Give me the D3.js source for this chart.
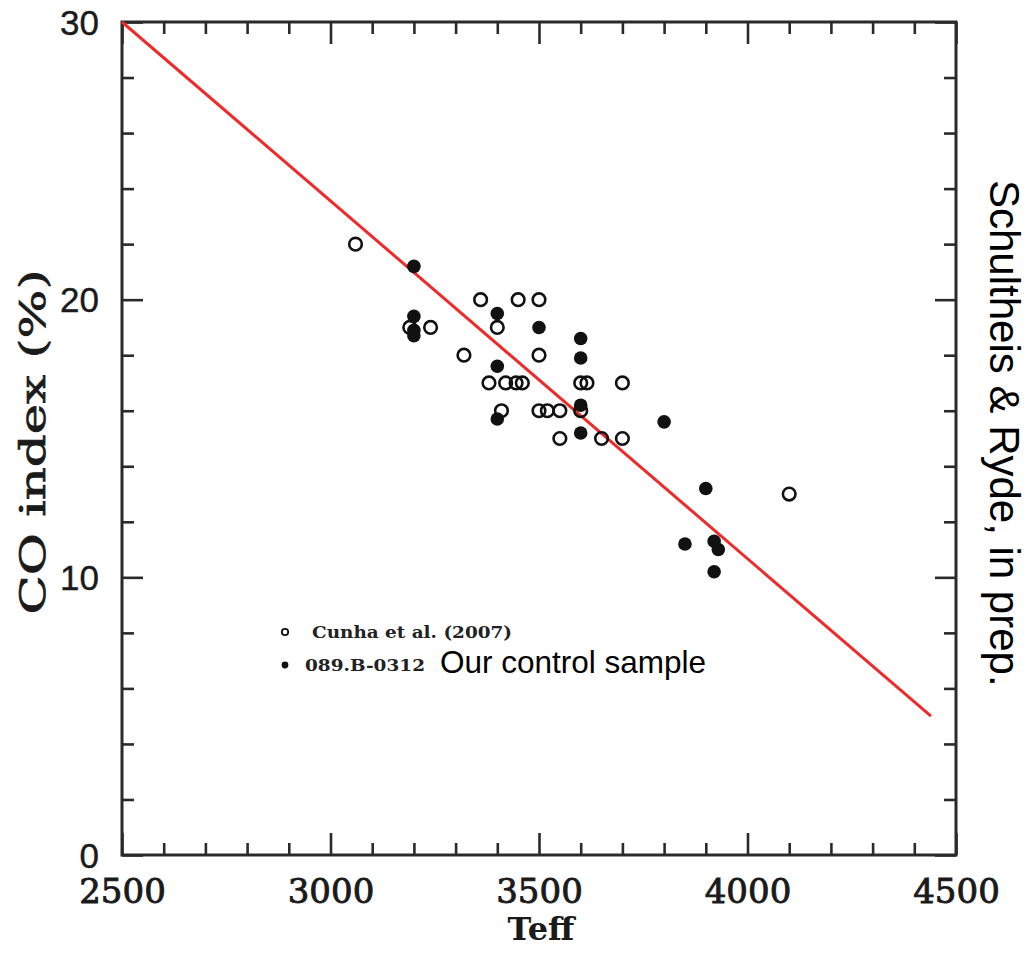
<html>
<script src="https://d3js.org/d3.v7.min.js"></script>
<body style="margin:0;background:#fff">
<div id="chart"></div>
<script>
// Cunha et al. (2007) - open circles
const cunhaTeff = [3060, 3360, 3450, 3500, 3190, 3240, 3400, 3320, 3500, 3380, 3420, 3445, 3460, 3600, 3615, 3700, 3410, 3500, 3520, 3550, 3600, 3550, 3650, 3700, 4100];
const cunhaCO   = [22, 20, 20, 20, 19, 19, 19, 18, 18, 17, 17, 17, 17, 17, 17, 17, 16, 16, 16, 16, 16, 15, 15, 15, 13];
// 089.B-0312 control sample - filled dots
const ctrlTeff = [3200, 3200, 3200, 3200, 3400, 3500, 3400, 3400, 3600, 3600, 3600, 3600, 3800, 3900, 3850, 3920, 3930, 3920];
const ctrlCO   = [21.2, 19.4, 18.9, 18.7, 19.5, 19, 17.6, 15.7, 18.6, 17.9, 16.2, 15.2, 15.6, 13.2, 11.2, 11.3, 11, 10.2];
// red relation
const fitTeff = [2500, 4440];
const fitCO   = [30, 5];
// ticks
const xMajor = [2500, 3000, 3500, 4000, 4500];
const yMajor = [0, 10, 20, 30];

const W = 1033, H = 953;
const svg = d3.select("#chart").append("svg").attr("width", W).attr("height", H);

const x = d3.scaleLinear().domain([2500, 4500]).range([122, 956]);
const y = d3.scaleLinear().domain([0, 30]).range([855, 22]);

const xMinor = d3.range(2600, 4500, 100).filter(v => v % 500 != 0);
const yMinor = d3.range(2, 30, 2).filter(v => v % 10 != 0);
const axisColor = "#2a2a2a";

function styleAxis(g) {
	g.select(".domain").remove();
	g.selectAll("line").attr("stroke", axisColor).attr("stroke-width", 2.6);
}

// bottom
svg.append("g").attr("transform", "translate(0,855)")
	.call(d3.axisBottom(x).tickValues(xMajor).tickSizeInner(-22).tickSizeOuter(0).tickPadding(0).tickFormat(d3.format("d")))
	.call(styleAxis)
	.call(g => g.selectAll("text").attr("font-family", "DejaVu Serif").attr("font-size", 34)
		.attr("fill", "#1a1a1a").attr("stroke", "#1a1a1a").attr("stroke-width", 0.9).attr("y", 48).attr("dy", 0));
svg.append("g").attr("transform", "translate(0,855)")
	.call(d3.axisBottom(x).tickValues(xMinor).tickSizeInner(-12).tickSizeOuter(0).tickFormat(""))
	.call(styleAxis);
// top
svg.append("g").attr("transform", "translate(0,22)")
	.call(d3.axisTop(x).tickValues(xMajor).tickSizeInner(-22).tickSizeOuter(0).tickFormat(""))
	.call(styleAxis);
svg.append("g").attr("transform", "translate(0,22)")
	.call(d3.axisTop(x).tickValues(xMinor).tickSizeInner(-12).tickSizeOuter(0).tickFormat(""))
	.call(styleAxis);
// left
svg.append("g").attr("transform", "translate(122,0)")
	.call(d3.axisLeft(y).tickValues(yMajor).tickSizeInner(-21).tickSizeOuter(0).tickPadding(0).tickFormat(d3.format("d")))
	.call(styleAxis)
	.call(g => g.selectAll("text").attr("font-family", "Liberation Sans, Arial").attr("font-size", 35)
		.attr("fill", "#1a1a1a").attr("stroke", "#1a1a1a").attr("stroke-width", 0.4).attr("x", -23).attr("dy", 12));
svg.append("g").attr("transform", "translate(122,0)")
	.call(d3.axisLeft(y).tickValues(yMinor).tickSizeInner(-12).tickSizeOuter(0).tickFormat(""))
	.call(styleAxis);
// right
svg.append("g").attr("transform", "translate(956,0)")
	.call(d3.axisRight(y).tickValues(yMajor).tickSizeInner(-21).tickSizeOuter(0).tickFormat(""))
	.call(styleAxis);
svg.append("g").attr("transform", "translate(956,0)")
	.call(d3.axisRight(y).tickValues(yMinor).tickSizeInner(-12).tickSizeOuter(0).tickFormat(""))
	.call(styleAxis);

// frame
svg.append("rect")
	.attr("x", x(2500)).attr("y", y(30))
	.attr("width", x(4500) - x(2500)).attr("height", y(0) - y(30))
	.attr("fill", "none").attr("stroke", axisColor).attr("stroke-width", 3);

// red line
const fit = fitTeff.map((t, i) => [t, fitCO[i]]);
svg.append("path").datum(fit)
	.attr("fill", "none").attr("stroke", "#ee2a2a").attr("stroke-width", 3)
	.attr("d", d3.line().x(d => x(d[0])).y(d => y(d[1])));

// open circles
svg.append("g").selectAll("circle")
	.data(cunhaTeff.map((t, i) => [t, cunhaCO[i]]))
	.enter().append("circle")
	.attr("cx", d => x(d[0])).attr("cy", d => y(d[1])).attr("r", 6.3)
	.attr("fill", "none").attr("stroke", "#111").attr("stroke-width", 2.6);

// filled dots
svg.append("g").selectAll("circle")
	.data(ctrlTeff.map((t, i) => [t, ctrlCO[i]]))
	.enter().append("circle")
	.attr("cx", d => x(d[0])).attr("cy", d => y(d[1])).attr("r", 6.8)
	.attr("fill", "#111");

// legend
svg.append("circle").attr("cx", 285).attr("cy", 632).attr("r", 3.2)
	.attr("fill", "none").attr("stroke", "#111").attr("stroke-width", 1.8);
svg.append("circle").attr("cx", 285).attr("cy", 665).attr("r", 3.4).attr("fill", "#111");
svg.append("text").attr("x", 312).attr("y", 638)
	.attr("font-family", "DejaVu Serif").attr("font-weight", "bold").attr("font-size", 17)
	.attr("textLength", 200).attr("lengthAdjust", "spacingAndGlyphs")
	.attr("fill", "#222").text("Cunha et al. (2007)");
svg.append("text").attr("x", 305).attr("y", 671)
	.attr("font-family", "DejaVu Serif").attr("font-weight", "bold").attr("font-size", 17)
	.attr("textLength", 120).attr("lengthAdjust", "spacingAndGlyphs")
	.attr("fill", "#222").text("089.B-0312");
svg.append("text").attr("x", 440).attr("y", 673)
	.attr("font-family", "Liberation Sans, Arial").attr("font-size", 31.5)
	.attr("fill", "#000").text("Our control sample");

// axis titles
svg.append("text").attr("x", 541).attr("y", 940).attr("text-anchor", "middle")
	.attr("font-family", "DejaVu Serif").attr("font-weight", "bold").attr("font-size", 32)
	.attr("fill", "#1a1a1a").text("Teff");
svg.append("text").attr("transform", "translate(45,442) rotate(-90)").attr("text-anchor", "middle")
	.attr("font-family", "DejaVu Serif").attr("font-size", 36)
	.attr("fill", "#1a1a1a").attr("stroke", "#1a1a1a").attr("stroke-width", 0.7)
	.attr("textLength", 345).attr("lengthAdjust", "spacingAndGlyphs").text("CO index (%)");

// side note
svg.append("text").attr("transform", "translate(990,180) rotate(90)")
	.attr("font-family", "Liberation Sans, Arial").attr("font-size", 42)
	.attr("fill", "#000").text("Schultheis & Ryde, in prep.");
</script>
</body>
</html>
